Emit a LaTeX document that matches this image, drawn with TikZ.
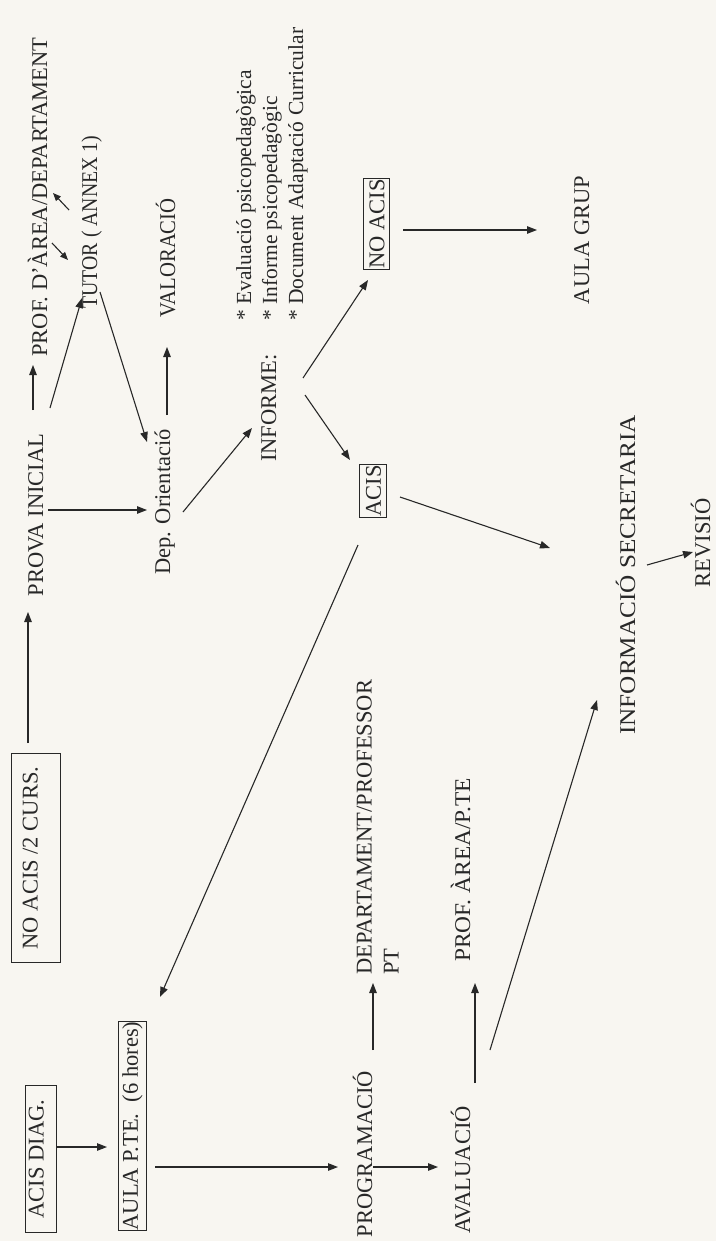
\documentclass[tikz,border=0pt]{standalone}
\usepackage{fontspec}
\setmainfont{Liberation Serif}
\usetikzlibrary{arrows.meta,calc}
\definecolor{paper}{RGB}{248,246,241}
\definecolor{ink}{RGB}{40,40,40}
\begin{document}
\begin{tikzpicture}[x=1pt,y=-1pt,
  lbl/.style={rotate=90, font=\fontsize{22.5}{27}\selectfont, text=ink, inner sep=0pt, anchor=base},
  boxed/.style={rotate=90, font=\fontsize{22.5}{27}\selectfont, draw=ink, line width=0.9pt, text=ink, text height=15.5pt, text depth=0pt},
  small/.style={rotate=90, font=\fontsize{21.5}{24}\selectfont, text=ink, inner sep=0pt, anchor=base west},
  arr/.style={draw=ink, line width=1.1pt, -{Triangle[length=10pt,width=7.5pt]}},
  sarr/.style={draw=ink, line width=1.1pt, -{Triangle[length=8pt,width=6.5pt]}}]
\fill[paper] (0,0) rectangle (716,1241);
\useasboundingbox (0,0) rectangle (716,1241);

% boxed nodes
\node[boxed, inner xsep=13.5pt, inner ysep=1.5pt, text height=25pt, text depth=21pt] (noacis2) at (35.5,858) {NO ACIS /2 CURS.};
\node[boxed, inner xsep=14.5pt, inner ysep=1pt, text height=17.5pt, text depth=11.5pt] (acisdiag) at (40.5,1159) {ACIS DIAG.};
\node[boxed, inner xsep=0.5pt, inner ysep=1pt, text height=18.5pt, text depth=8pt] (aulapte) at (132.5,1126) {AULA P.TE.\ \ (6 hores)};
\node[boxed, inner xsep=0.5pt, inner ysep=5.5pt] (noacis) at (376.5,224) {NO ACIS};
\node[boxed, inner xsep=0.5pt, inner ysep=5.5pt] (acis) at (373,491) {ACIS};

% plain labels
\node[lbl] (prova) at (43,515) {PROVA INICIAL};
\node[lbl] (dep) at (170,502) {Dep. Orientació};
\node[lbl] (profarea) at (47,197) {PROF. D’ÀREA/DEPARTAMENT};
\node[lbl] (tutor) at (97,222) {\scalebox{0.88}[1]{TUTOR ( ANNEX 1)}};
\node[lbl] (valor) at (175,258) {\scalebox{0.92}[1]{VALORACIÓ}};
\node[lbl] (informe) at (276,408) {INFORME:};
\node[small] (b1) at (251,321) {* Evaluació psicopedagògica};
\node[small] (b2) at (277,321) {* Informe psicopedagògic};
\node[small] (b3) at (303,321) {* Document Adaptació Curricular};
\node[lbl] (aulagrup) at (589,240) {AULA GRUP};
\node[lbl] (infosec) at (635,575) {\scalebox{1.12}[1]{INFORMACIÓ SECRETARIA}};
\node[lbl] (revisio) at (710,543) {REVISIÓ};
\node[lbl] (progr) at (372,1154) {PROGRAMACIÓ};
\node[lbl] (aval) at (470,1170) {AVALUACIÓ};
\node[lbl, align=left, anchor=north west] (deppt) at (356.5,975) {DEPARTAMENT/PROFESSOR\\PT};
\node[lbl] (profapte) at (470,870) {\scalebox{1.04}[1]{PROF. ÀREA/P.TE}};

% connectors
\draw[arr] ($(noacis2.center)+(-7.5,-115)$) -- ($(prova.base)+(-15,97)$);
\draw[arr] ($(prova.base)+(5,-5)$) -- ($(dep.base)+(-23,8)$);
\draw[arr] ($(prova.base)+(-10,-105)$) -- ($(profarea.base)+(-14,168)$);
\draw[arr] ($(prova.base)+(7,-107)$) -- ($(tutor.base)+(-15,76)$);
\draw[arr] ($(tutor.base)+(3,70)$) -- ($(dep.base)+(-23,-60)$);
\draw[sarr] ($(profarea.base)+(5,46)$) -- ($(tutor.base)+(-29,38)$);
\draw[sarr] ($(tutor.base)+(-28,-12)$) -- ($(profarea.base)+(6,-4)$);
\draw[arr] ($(dep.base)+(-3,-87)$) -- ($(valor.base)+(-8,89)$);
\draw[arr] ($(dep.base)+(13,10)$) -- ($(informe.base)+(-24,20)$);
\draw[arr] ($(informe.base)+(27,-30)$) -- ($(noacis.center)+(-8.5,56)$);
\draw[arr] ($(informe.base)+(29,-13)$) -- ($(acis.center)+(-23,-31)$);
\draw[arr] ($(noacis.center)+(26.5,6)$) -- ($(aulagrup.base)+(-52,-10)$);
\draw[arr] ($(acis.center)+(27,6)$) -- ($(infosec.base)+(-85,-27)$);
\draw[arr] ($(acis.center)+(-15,54)$) -- ($(aulapte.center)+(27.5,-129)$);
\draw[arr] ($(infosec.base)+(12,-10)$) -- ($(revisio.base)+(-17,9)$);
\draw[arr] ($(aval.base)+(20,-120)$) -- ($(infosec.base)+(-38,125)$);
\draw[arr] ($(acisdiag.center)+(16.5,-12)$) -- ($(aulapte.center)+(-25.5,21)$);
\draw[arr] ($(aulapte.center)+(22.5,41)$) -- ($(progr.base)+(-34,13)$);
\draw[arr] ($(progr.base)+(1,13)$) -- ($(aval.base)+(-32,-3)$);
\draw[arr] ($(progr.base)+(1,-104)$) -- ($(deppt.north west)+(16.5,8)$);
\draw[arr] ($(aval.base)+(5,-87)$) -- ($(profapte.base)+(5,113)$);
\end{tikzpicture}
\end{document}
